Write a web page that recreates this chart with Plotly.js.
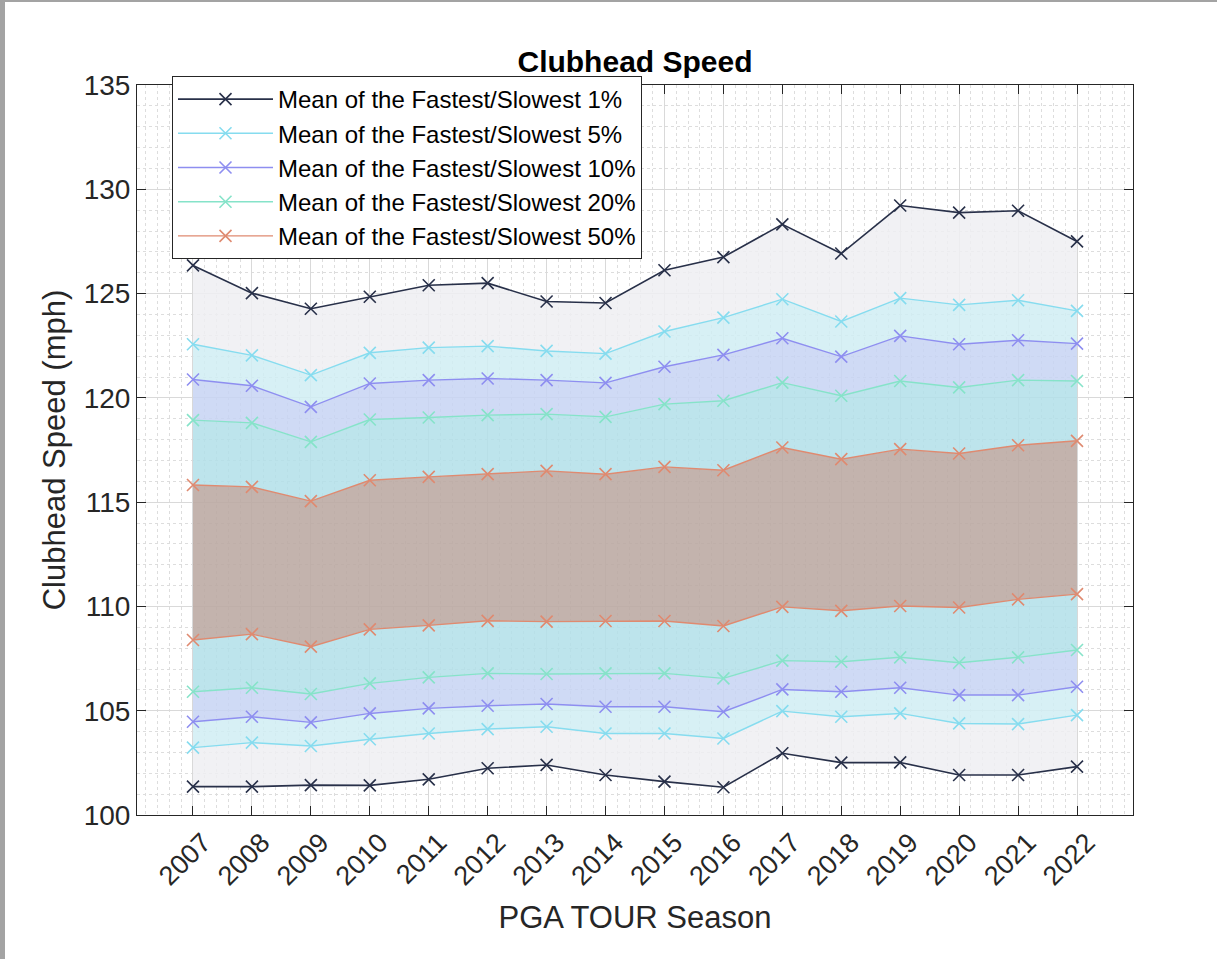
<!DOCTYPE html>
<html>
<head>
<meta charset="utf-8">
<script src="https://cdn.plot.ly/plotly-3.0.1.min.js"></script>
<style>
  html, body { margin: 0; padding: 0; background: #ffffff; }
  #chart { position: absolute; left: 0; top: 0; width: 1217px; height: 959px; }
  #frameL { position: absolute; left: 0; top: 0; width: 5px; height: 959px; background: #a3a3a3; }
  #frameT { position: absolute; left: 0; top: 0; width: 1217px; height: 2px; background: #a3a3a3; }
</style>
</head>
<body>
<div id="chart"></div>
<div id="frameL"></div>
<div id="frameT"></div>
<script>
const seasons = [2007, 2008, 2009, 2010, 2011, 2012, 2013, 2014, 2015, 2016, 2017, 2018, 2019, 2020, 2021, 2022];

const fastest1  = [126.35, 125.02, 124.27, 124.85, 125.40, 125.50, 124.62, 124.55, 126.12, 126.75, 128.32, 126.92, 129.22, 128.88, 128.97, 127.50];
const slowest1  = [101.36, 101.36, 101.43, 101.42, 101.71, 102.24, 102.40, 101.92, 101.60, 101.33, 102.96, 102.51, 102.52, 101.92, 101.92, 102.32];
const fastest5  = [122.57, 122.04, 121.09, 122.16, 122.41, 122.48, 122.25, 122.12, 123.18, 123.85, 124.73, 123.66, 124.78, 124.46, 124.68, 124.17];
const slowest5  = [103.23, 103.47, 103.31, 103.63, 103.91, 104.12, 104.23, 103.91, 103.91, 103.67, 104.98, 104.71, 104.87, 104.39, 104.36, 104.79];
const fastest10 = [120.88, 120.58, 119.57, 120.69, 120.85, 120.93, 120.85, 120.72, 121.49, 122.06, 122.86, 121.98, 122.97, 122.57, 122.76, 122.60];
const slowest10 = [104.47, 104.71, 104.44, 104.87, 105.11, 105.24, 105.32, 105.19, 105.19, 104.95, 106.02, 105.91, 106.10, 105.75, 105.75, 106.15];
const fastest20 = [118.93, 118.80, 117.89, 118.96, 119.06, 119.17, 119.22, 119.09, 119.70, 119.86, 120.73, 120.10, 120.81, 120.50, 120.85, 120.81];
const slowest20 = [105.91, 106.10, 105.80, 106.31, 106.60, 106.79, 106.76, 106.79, 106.79, 106.55, 107.40, 107.35, 107.56, 107.30, 107.56, 107.91];
const fastest50 = [115.82, 115.73, 115.05, 116.05, 116.21, 116.34, 116.50, 116.34, 116.69, 116.53, 117.62, 117.06, 117.54, 117.33, 117.73, 117.94];
const slowest50 = [108.39, 108.67, 108.07, 108.90, 109.09, 109.31, 109.27, 109.30, 109.30, 109.06, 109.98, 109.79, 110.02, 109.95, 110.34, 110.59];

const seriesNames = [
  'Mean of the Fastest/Slowest 1%',
  'Mean of the Fastest/Slowest 5%',
  'Mean of the Fastest/Slowest 10%',
  'Mean of the Fastest/Slowest 20%',
  'Mean of the Fastest/Slowest 50%'
];

const lineColors = ['#283049', '#86dcef', '#8e8ef0', '#86e3c9', '#df8a70'];
const bandColors = [
  'rgba(238,239,242,0.85)',
  'rgba(208,237,243,0.85)',
  'rgba(199,212,243,0.85)',
  'rgba(178,223,233,0.85)',
  'rgba(187,169,162,0.88)'
];

const highs = [fastest1, fastest5, fastest10, fastest20, fastest50];
const lows  = [slowest1, slowest5, slowest10, slowest20, slowest50];

const traces = [];
const stackOrder = [
  [lows[0], null],
  [lows[1], bandColors[0]],
  [lows[2], bandColors[1]],
  [lows[3], bandColors[2]],
  [lows[4], bandColors[3]],
  [highs[4], bandColors[4]],
  [highs[3], bandColors[3]],
  [highs[2], bandColors[2]],
  [highs[1], bandColors[1]],
  [highs[0], bandColors[0]]
];
stackOrder.forEach(function (s) {
  const t = {
    x: seasons, y: s[0], type: 'scatter', mode: 'lines',
    line: { width: 0, color: 'rgba(0,0,0,0)' },
    showlegend: false, hoverinfo: 'skip'
  };
  if (s[1]) { t.fill = 'tonexty'; t.fillcolor = s[1]; }
  traces.push(t);
});

for (let k = 0; k < 5; k++) {
  const common = {
    x: seasons, type: 'scatter', mode: 'lines+markers',
    line: { color: lineColors[k], width: k === 0 ? 1.6 : 1.4 },
    marker: { symbol: 'x-thin', size: 12, color: lineColors[k], line: { color: lineColors[k], width: 1.6 } },
    legendgroup: 'g' + k, name: seriesNames[k]
  };
  traces.push(Object.assign({}, common, { y: highs[k], showlegend: true }));
  traces.push(Object.assign({}, common, { y: lows[k], showlegend: false }));
}

const fontFam = '"Liberation Sans", Arial, Helvetica, sans-serif';
const axisCol = '#262626';

const layout = {
  width: 1217, height: 959,
  margin: { l: 137, r: 84, t: 85, b: 144 },
  paper_bgcolor: 'rgba(0,0,0,0)',
  plot_bgcolor: '#ffffff',
  font: { family: fontFam, color: axisCol, size: 26 },
  title: {
    text: '<b>Clubhead Speed</b>',
    font: { family: fontFam, size: 30, color: '#000000' },
    x: 0.5, xref: 'paper', xanchor: 'center',
    y: 1 - 61 / 959, yref: 'container', yanchor: 'middle'
  },
  xaxis: {
    range: [2006.05, 2022.95],
    tickmode: 'linear', tick0: 2007, dtick: 1,
    tickangle: -45,
    tickfont: { family: fontFam, size: 27, color: axisCol },
    ticklabelshift: 10,
    ticks: 'inside', ticklen: 9, tickcolor: axisCol, tickwidth: 1,
    showline: true, linecolor: axisCol, linewidth: 1, mirror: 'ticks',
    showgrid: true, gridcolor: '#d9d9d9', gridwidth: 1,
    minor: { tick0: 2007, dtick: 0.2, showgrid: true, gridcolor: '#dddddd', griddash: 'dot', gridwidth: 1, ticks: '' },
    zeroline: false,
    title: { text: 'PGA TOUR Season', font: { family: fontFam, size: 31, color: axisCol }, standoff: 16 }
  },
  yaxis: {
    range: [100, 135],
    tickmode: 'linear', tick0: 100, dtick: 5,
    tickfont: { family: fontFam, size: 28, color: axisCol },
    ticks: 'inside', ticklen: 9, tickcolor: axisCol, tickwidth: 1,
    showline: true, linecolor: axisCol, linewidth: 1, mirror: 'ticks',
    showgrid: true, gridcolor: '#d9d9d9', gridwidth: 1,
    minor: { tick0: 100, dtick: 1, showgrid: true, gridcolor: '#dddddd', griddash: 'dot', gridwidth: 1, ticks: '' },
    zeroline: false,
    title: { text: 'Clubhead Speed (mph)', font: { family: fontFam, size: 31, color: axisCol }, standoff: 8 }
  },
  legend: {
    x: (172 - 137) / 996, xanchor: 'left',
    y: (815 - 76) / 730, yanchor: 'top',
    bgcolor: '#ffffff', bordercolor: axisCol, borderwidth: 1,
    font: { family: fontFam, size: 24, color: '#000000' },
    tracegroupgap: 0, itemwidth: 95
  },
  showlegend: true
};

Plotly.newPlot('chart', traces, layout, { displayModeBar: false, staticPlot: true });
</script>
</body>
</html>
